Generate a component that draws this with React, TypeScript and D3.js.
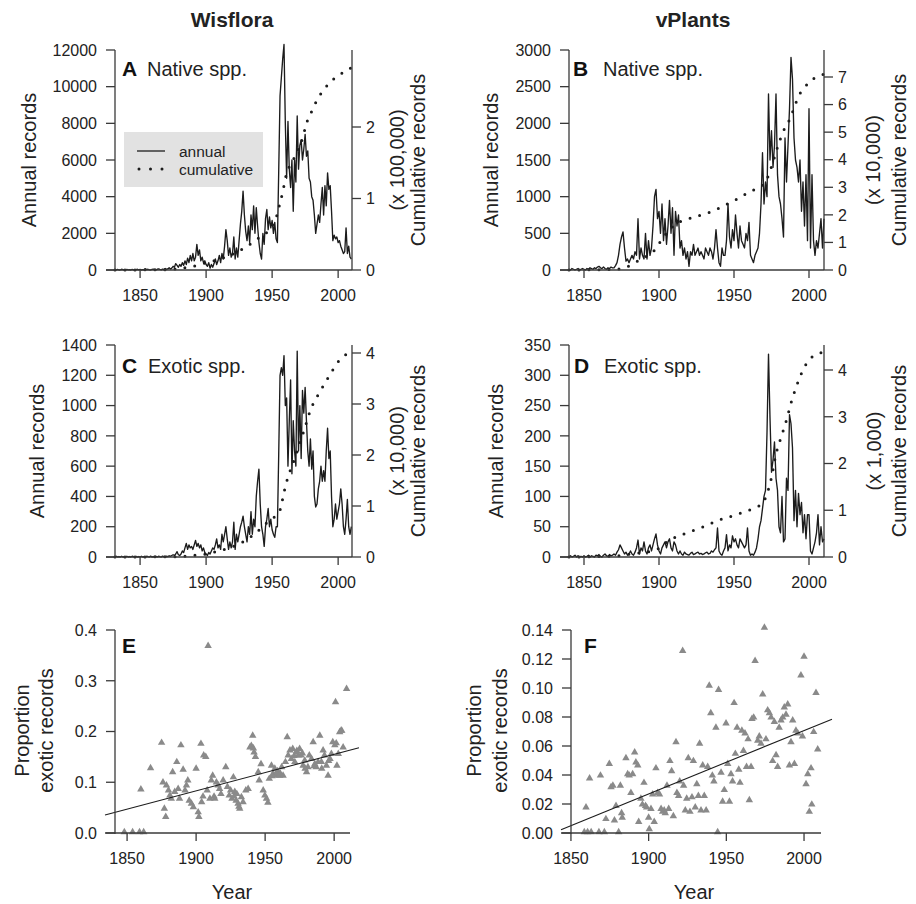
import React from 'react'
import * as d3 from 'd3'

// Herbarium records over time: Wisflora (left) vs vPlants (right).
// Annual counts as solid line (left axis), cumulative as dotted line (right axis),
// bottom row: proportion of exotic records per year with a linear fit.

const FONT = '"Liberation Sans", Arial, Helvetica, sans-serif'
const AXIS = '#3a3a3a'
const INK = '#1c1c1c'
const GREY = '#8a8a8a'

const yearTicks = [1850, 1900, 1950, 2000]

// ---- A: Wisflora native, annual records from 1831
const startA = 1831
const annualA = [
  20, 10, 30, 0, 10, 40, 20, 0, 10, 30,
  10, 20, 0, 30, 10, 0, 20, 40, 10, 30,
  0, 20, 10, 60, 20, 40, 10, 0, 30, 50,
  20, 10, 40, 60, 30, 10, 50, 20, 80, 40,
  60, 120, 50, 100, 200, 150, 350, 250, 150, 300,
  200, 400, 250, 500, 300, 650, 400, 800, 500, 900,
  500, 700, 1400, 800, 1100, 500, 700, 400, 500, 300,
  200, 400, 100, 300, 150, 350, 600, 300, 500, 800,
  400, 900, 600, 1300, 2200, 1600, 800, 1200, 700, 900,
  1800, 600, 1200, 700, 1600, 2500, 3200, 4300, 3000, 2100,
  1600, 2400, 1500, 3000, 2200, 3500, 2000, 3400, 2400, 1500,
  900, 600, 2000, 1400, 2800, 3300, 2200, 2900, 2300, 2700,
  2000, 2600, 1700, 1500, 5400, 9500, 10500, 11500, 12300, 8000,
  5000, 8100, 5500, 4500, 6000, 3200, 6000, 4800, 8400, 5500,
  6800, 7100, 6000, 6600, 7400, 6200, 6500, 5000, 4800, 4000,
  3800, 3000, 2000, 2500, 3000, 2600, 3600, 4500, 3000, 4600,
  3500, 5300, 4400, 4600, 3200, 1600, 1900, 1700, 1800, 1500,
  1600, 1300, 1100, 900, 1000, 2300, 900, 1300, 700, 600,
]
const cumYearsA = [1831, 1870, 1880, 1890, 1900, 1910, 1920, 1930, 1940, 1950, 1955, 1956, 1958, 1960, 1962, 1966, 1970, 1973, 1976, 1980, 1983, 1986, 1990, 1994, 1998, 2002, 2006, 2010]
const cumA = [0, 0.005, 0.02, 0.05, 0.1, 0.15, 0.22, 0.32, 0.45, 0.62, 0.86, 0.95, 1.08, 1.28, 1.4, 1.54, 1.7, 1.84, 2.05, 2.22, 2.34, 2.44, 2.54, 2.63, 2.69, 2.74, 2.79, 2.83]

// ---- B: vPlants native, from 1840
const startB = 1840
const annualB = [
  10, 0, 20, 10, 0, 10, 20, 0, 10, 20,
  10, 0, 20, 10, 30, 20, 10, 30, 20, 40,
  50, 30, 20, 40, 20, 10, 30, 20, 40, 30,
  30, 60, 100, 200, 350, 450, 520, 300, 120, 150,
  100, 150, 200, 150, 250, 200, 700, 150, 300, 200,
  150, 500, 150, 400, 200, 300, 600, 1000, 1100, 700,
  800, 500, 900, 400, 700, 350, 600, 950, 500, 850,
  200, 800, 600, 750, 300, 400, 200, 300, 150, 250,
  50, 250, 200, 350, 200, 250, 300, 200, 250, 200,
  150, 300, 250, 200, 300, 250, 150, 300, 550, 300,
  100, 50, 300, 200, 200, 400, 900, 450, 300, 550,
  400, 750, 500, 300, 600, 400, 350, 300, 500, 400,
  650, 200, 150, 100, 200, 250, 300, 500, 900, 1600,
  900, 1200, 1000, 2400, 1500, 1900, 1400, 1700, 2400, 1300,
  1000, 900, 700, 450, 1800, 1200, 1700, 2200, 2900, 2600,
  1800, 1500, 1400, 1200, 1500, 800, 1200, 600, 1300, 400,
  2200, 300, 1300, 400, 200, 400, 300, 500, 700, 300, 700,
]
const cumYearsB = [1840, 1870, 1875, 1878, 1885, 1890, 1896, 1900, 1903, 1907, 1912, 1918, 1925, 1930, 1935, 1940, 1945, 1951, 1955, 1960, 1965, 1969, 1972, 1975, 1979, 1983, 1987, 1990, 1993, 1996, 2000, 2005, 2010]
const cumB = [0, 0.02, 0.05, 0.1, 0.3, 0.45, 0.65, 0.95, 1.2, 1.45, 1.7, 1.82, 1.95, 2.02, 2.12, 2.24, 2.38, 2.54, 2.66, 2.83, 2.95, 3.08, 3.3, 3.75, 4.45, 5.05, 5.45, 5.87, 6.3, 6.55, 6.8, 7.0, 7.1]

// ---- C: Wisflora exotic, from 1831
const startC = 1831
const annualC = [
  0, 5, 0, 3, 0, 5, 0, 2, 0, 5,
  0, 3, 0, 5, 2, 0, 4, 0, 3, 0,
  5, 0, 3, 0, 5, 2, 0, 6, 0, 3,
  0, 4, 0, 5, 2, 0, 6, 3, 0, 5,
  3, 8, 5, 10, 15, 10, 20, 35, 15, 10,
  20, 40, 30, 60, 90, 50, 80, 60, 70, 50,
  80, 110, 70, 90, 60, 80, 40, 60, 30, 20,
  10, 30, 20, 40, 60, 50, 80, 120, 60, 80,
  50, 150, 100, 150, 200, 120, 50, 100, 60, 100,
  230, 50, 150, 100, 150, 200, 230, 270, 200, 150,
  100, 200, 150, 300, 150, 250, 200, 400, 500, 580,
  350, 200, 150, 70, 200, 250, 320, 200, 250, 180,
  150, 130, 200, 200, 680, 1200, 1250, 1200, 1330, 1000,
  1050, 600, 900, 1170, 550, 900, 700, 600, 1360, 700,
  1000, 650, 1100, 950, 1120, 900, 700, 600, 780, 580,
  700, 400, 330, 350, 450, 500, 600, 500, 570, 500,
  700, 850, 650, 700, 400, 200, 250, 350, 250, 300,
  350, 450, 350, 200, 150, 250, 380, 200, 150, 200,
]
const cumYearsC = [1831, 1875, 1890, 1900, 1910, 1920, 1930, 1935, 1941, 1946, 1952, 1956, 1959, 1962, 1966, 1970, 1975, 1979, 1984, 1990, 1996, 2001, 2005, 2010]
const cumC = [0, 0.005, 0.03, 0.06, 0.12, 0.2, 0.33, 0.42, 0.55, 0.67, 0.79, 0.92, 1.27, 1.57, 1.85, 2.15, 2.55, 2.88, 3.14, 3.41, 3.67, 3.86, 3.95, 4.05]

// ---- D: vPlants exotic, from 1840
const startD = 1840
const annualD = [
  0, 2, 0, 1, 3, 0, 2, 0, 1, 0,
  2, 0, 1, 3, 0, 2, 1, 0, 3, 2,
  4, 1, 0, 3, 5, 2, 1, 4, 2, 3,
  5, 3, 8, 12, 20, 15, 10, 5, 8, 3,
  5, 10, 5, 3, 8, 15, 28, 5, 15, 10,
  25, 10, 5, 15, 20, 10, 20, 30, 38, 20,
  10, 5, 15, 20, 25, 15, 25, 30, 15, 10,
  25, 20, 10, 5, 10, 5, 3, 8, 5, 4,
  3, 6, 8, 4, 5, 7, 8, 5, 6, 4,
  5, 7, 8, 5, 6, 10, 8, 12, 15, 48,
  10, 5, 3, 10, 15, 37, 10, 20, 15, 35,
  25, 30, 20, 15, 30, 25, 20, 15, 20, 48,
  10, 3, 5, 3, 8, 15, 30, 50, 60, 80,
  100, 110, 205, 335, 230, 140, 160, 190, 130, 110,
  50, 40, 100, 25, 30, 130, 110, 235, 220, 180,
  60, 110, 50, 105, 70, 90, 40, 70, 30, 70,
  70, 10, 5, 15, 25, 40, 70, 20, 50, 25, 30,
]
const cumYearsD = [1840, 1870, 1880, 1890, 1898, 1907, 1918, 1929, 1940, 1951, 1960, 1966, 1969, 1972, 1975, 1978, 1981.5, 1985, 1988, 1991.5, 1996, 2001, 2005, 2010]
const cumD = [0, 0.02, 0.06, 0.1, 0.15, 0.36, 0.51, 0.64, 0.79, 0.9, 1.0, 1.08, 1.15, 1.35, 1.7, 2.2, 2.57, 2.93, 3.29, 3.64, 4.0, 4.25, 4.32, 4.4]

// ---- E: Wisflora proportion exotic
const eYear = [
  1848, 1854, 1859, 1862, 1860, 1867, 1875, 1876, 1877, 1878,
  1878.5, 1880, 1881, 1882, 1883, 1886, 1884.5, 1887, 1888, 1889,
  1890.6, 1892, 1893, 1894, 1895, 1896.6, 1898, 1900, 1901.5, 1902,
  1903.5, 1904, 1905.5, 1907, 1908.7, 1908, 1910, 1911, 1912, 1913.5,
  1914.7, 1916, 1917, 1918, 1919.6, 1921.5, 1922.7, 1924, 1925, 1926,
  1927, 1928, 1929, 1930.4, 1931.6, 1932.8, 1934, 1936, 1937.7, 1939,
  1940, 1941, 1942, 1943, 1945, 1945.7, 1947, 1948.6, 1949.8, 1951,
  1952, 1953, 1954.6, 1955.8, 1957, 1958, 1959.4, 1960.6, 1962, 1963,
  1964.7, 1966, 1966.7, 1968, 1969, 1970, 1971.5, 1972.7, 1974, 1975,
  1976, 1977.5, 1978.7, 1980, 1981, 1982, 1983.6, 1984.8, 1986, 1987,
  1988.4, 1989.6, 1990.8, 1992, 1993, 1994.4, 1995.6, 1997, 1998, 1999,
  2000.5, 2001, 2002, 2003, 2004, 2005, 2006.5, 2009,
  1941.5, 1955, 1959, 1961, 1971, 1973, 1977, 1979, 1985.5, 1991,
  1996, 2001.5, 2005.5, 1905, 1913, 1927.5, 1929.5, 1931,
]
const eProp = [
  0, 0, 0, 0, 0.084, 0.126, 0.176, 0.098, 0.046, 0.03,
  0.092, 0.082, 0.072, 0.066, 0.118, 0.138, 0.079, 0.085, 0.066, 0.171,
  0.123, 0.082, 0.092, 0.102, 0.062, 0.056, 0.049, 0.125, 0.039, 0.03,
  0.174, 0.059, 0.151, 0.148, 0.367, 0.082, 0.066, 0.102, 0.111, 0.066,
  0.098, 0.092, 0.085, 0.075, 0.102, 0.128, 0.089, 0.072, 0.082, 0.066,
  0.108, 0.079, 0.062, 0.056, 0.046, 0.069, 0.059, 0.082, 0.085, 0.167,
  0.17, 0.19, 0.157, 0.148, 0.118, 0.102, 0.134, 0.082, 0.072, 0.066,
  0.058, 0.105, 0.131, 0.115, 0.125, 0.111, 0.118, 0.111, 0.128, 0.111,
  0.138, 0.187, 0.151, 0.161, 0.144, 0.164, 0.138, 0.157, 0.151, 0.164,
  0.151, 0.131, 0.141, 0.118, 0.128, 0.151, 0.144, 0.177, 0.134, 0.128,
  0.138, 0.19, 0.138, 0.161, 0.151, 0.131, 0.111, 0.144, 0.154, 0.177,
  0.171, 0.256, 0.131, 0.154, 0.197, 0.2, 0.167, 0.282,
  0.165, 0.11, 0.12, 0.115, 0.15, 0.16, 0.155, 0.125, 0.13, 0.125,
  0.14, 0.175, 0.2, 0.07, 0.07, 0.07, 0.075, 0.05,
]
const fitE = [0.047, 0.00072] // value at 1850, slope per year

// ---- F: vPlants proportion exotic
const fYear = [
  1859.7, 1862, 1858.6, 1860.7, 1863, 1869, 1868, 1871.5, 1872.5, 1874.7,
  1875.8, 1877, 1878, 1879, 1880.7, 1881.8, 1882.6, 1883, 1885.4, 1886.5,
  1887.5, 1888.6, 1889.7, 1891, 1891.8, 1893, 1893.6, 1895, 1896, 1897,
  1898, 1898.7, 1900, 1900.4, 1901.5, 1902.6, 1903.6, 1904.7, 1905.8, 1907,
  1908, 1909, 1910, 1910.7, 1911.8, 1912.9, 1913.7, 1914.8, 1915.9, 1917.6,
  1918.2, 1919.3, 1920, 1921.9, 1922.5, 1923.6, 1924.5, 1925.5, 1926.6, 1927.9,
  1928.8, 1930, 1931, 1932, 1932.8, 1933.7, 1934.8, 1935.8, 1937, 1938,
  1939, 1940, 1941, 1942, 1943.3, 1944.4, 1945, 1946.6, 1947.6, 1948.7,
  1949.8, 1950.9, 1952, 1953, 1954, 1955, 1955.8, 1956.9, 1958, 1958.8,
  1960, 1961, 1962, 1963, 1964, 1964.8, 1965.9, 1966.5, 1967.6, 1968.5,
  1970.2, 1971.2, 1972.3, 1973.4, 1974.5, 1975.5, 1976.6, 1977.7, 1978.8, 1979.8,
  1980.9, 1982, 1983, 1984, 1985.2, 1986.3, 1987.3, 1988.4, 1989.5, 1990.6,
  1991.6, 1992.7, 1993.8, 1994.8, 1996, 1998, 1999, 2000, 2001.3, 2002.4,
  2003.4, 2004.5, 2005, 2006.2, 2007.7, 2008.8,
]
const fProp = [
  0.017, 0.037, 0, 0, 0, 0.039, 0, 0, 0.009, 0.047,
  0.031, 0.032, 0.008, 0.018, 0, 0.032, 0.013, 0.01, 0.051, 0.04,
  0.039, 0.027, 0.04, 0.055, 0.048, 0.046, 0.007, 0.023, 0.019, 0.034,
  0.018, 0.017, 0.01, 0.002, 0.016, 0.026, 0.007, 0.044, 0.027, 0.026,
  0.016, 0.014, 0.015, 0.013, 0.032, 0.016, 0.049, 0.042, 0.011, 0.062,
  0.027, 0.025, 0.035, 0.125, 0.032, 0.015, 0.023, 0.051, 0.014, 0.024,
  0.049, 0.017, 0.033, 0.025, 0.061, 0.015, 0.046, 0.025, 0.015, 0.045,
  0.101, 0.082, 0.039, 0.035, 0.072, 0, 0.098, 0.041, 0.021, 0.029,
  0.075, 0.047, 0.021, 0.04, 0.035, 0.089, 0.054, 0.072, 0.043, 0.034,
  0.07, 0.056, 0.068, 0.045, 0.064, 0.022, 0.045, 0.078, 0.079, 0.118,
  0.063, 0.066, 0.061, 0.095, 0.141, 0.064, 0.084, 0.082, 0.079, 0.049,
  0.076, 0.053, 0.045, 0.072, 0.077, 0.079, 0.086, 0.081, 0.088, 0.046,
  0.062, 0.077, 0.047, 0.07, 0.068, 0.108, 0.066, 0.121, 0.033, 0.04,
  0.014, 0.044, 0.019, 0.069, 0.096, 0.057,
]
const fitF = [0.0051, 0.000437]

const ticksA = [0, 2000, 4000, 6000, 8000, 10000, 12000]
const ticksB = [0, 500, 1000, 1500, 2000, 2500, 3000]
const ticksC = [0, 200, 400, 600, 800, 1000, 1200, 1400]
const ticksD = [0, 50, 100, 150, 200, 250, 300, 350]
const rTicksA = [0, 1, 2]
const rTicksB = [0, 1, 2, 3, 4, 5, 6, 7]
const rTicksCD = [0, 1, 2, 3, 4]
const ticksE = [0, 0.1, 0.2, 0.3, 0.4]
const ticksF = [0, 0.02, 0.04, 0.06, 0.08, 0.1, 0.12, 0.14]

type Layout = {
  left: number; right: number; top: number; bottom: number; rTop: number
  xDomain: [number, number]; yMax: number; rMax: number
  ylabX: number; rlab1X: number; rlab2X: number
  letterX: number; groupX: number; letterY: number
}

function SeriesPanel(props: {
  start: number; annual: number[]; cumYears: number[]; cum: number[]
  lay: Layout; yTicks: number[]; rTicks: number[]
  letter: string; group: string; scaleLabel: string; legend?: boolean
}) {
  const { start, annual, cumYears, cum, lay, yTicks, rTicks } = props
  const x = d3.scaleLinear().domain(lay.xDomain).range([lay.left, lay.right])
  const y = d3.scaleLinear().domain([0, lay.yMax]).range([lay.bottom, lay.top])
  const yr = d3.scaleLinear().domain([0, lay.rMax]).range([lay.bottom, lay.rTop])
  const pts: [number, number][] = annual.map((v, i) => [start + i, v])
  const annualPath = d3.line<[number, number]>().x((d) => x(d[0])).y((d) => y(d[1]))(pts) || ''
  const cumPts: [number, number][] = cumYears.map((yy, i) => [yy, cum[i]])
  const cumPath =
    d3.line<[number, number]>().x((d) => x(d[0])).y((d) => yr(d[1])).curve(d3.curveMonotoneX)(cumPts) || ''
  const midY = (lay.top + lay.bottom) / 2
  return (
    <g>
      <path d={annualPath} fill="none" stroke={INK} strokeWidth={1.35} strokeLinejoin="round" />
      <path d={cumPath} fill="none" stroke={INK} strokeWidth={3} strokeDasharray="0 10" strokeLinecap="round" />
      <g stroke={AXIS} strokeWidth={1.3}>
        <line x1={lay.left - 9} x2={lay.right} y1={lay.bottom} y2={lay.bottom} />
        <line x1={lay.left} x2={lay.left} y1={lay.top} y2={lay.bottom} />
        <line x1={lay.right} x2={lay.right} y1={lay.top} y2={lay.bottom} />
        {yearTicks.map((t) => (
          <line key={t} x1={x(t)} x2={x(t)} y1={lay.bottom} y2={lay.bottom + 8} />
        ))}
        {yTicks.map((t) => (
          <line key={t} x1={lay.left - 9} x2={lay.left} y1={y(t)} y2={y(t)} />
        ))}
        {rTicks.map((t) => (
          <line key={t} x1={lay.right} x2={lay.right + 9} y1={yr(t)} y2={yr(t)} />
        ))}
      </g>
      <g fontSize={16} fill="#222">
        {yearTicks.map((t) => (
          <text key={t} x={x(t)} y={lay.bottom + 31} textAnchor="middle">{t}</text>
        ))}
        {yTicks.map((t) => (
          <text key={t} x={lay.left - 18} y={y(t)} dy="0.36em" textAnchor="end">{t}</text>
        ))}
        {rTicks.map((t) => (
          <text key={t} x={lay.right + 14} y={yr(t)} dy="0.36em" textAnchor="start">{t}</text>
        ))}
      </g>
      <g fontSize={20} fill="#222" textAnchor="middle">
        <text transform={`translate(${lay.ylabX},${midY}) rotate(-90)`} dy="0.35em">Annual records</text>
        <text transform={`translate(${lay.rlab1X},${midY}) rotate(-90)`} dy="0.35em">{props.scaleLabel}</text>
        <text transform={`translate(${lay.rlab2X},${midY}) rotate(-90)`} dy="0.35em">Cumulative records</text>
      </g>
      <text x={lay.letterX} y={lay.letterY} fontSize={21} fontWeight="bold" fill="#111">{props.letter}</text>
      <text x={lay.groupX} y={lay.letterY} fontSize={20} fill="#222">{props.group}</text>
      {props.legend && (
        <g>
          <rect x={124} y={132} width={139} height={55} fill="#e2e2e2" />
          <line x1={137} x2={165} y1={151} y2={151} stroke={INK} strokeWidth={1.3} />
          <line x1={139} x2={163} y1={169} y2={169} stroke={INK} strokeWidth={3} strokeDasharray="0 11.5" strokeLinecap="round" />
          <text x={179} y={156.5} fontSize={15.5} fill="#222">annual</text>
          <text x={179} y={174.5} fontSize={15.5} fill="#222">cumulative</text>
        </g>
      )}
    </g>
  )
}

type SLayout = {
  xRange: [number, number]; xDomain: [number, number]; axisX: number; axisEnd: number
  top: number; bottom: number; yMax: number; labX1: number; labX2: number
  letterX: number; letterY: number; yearX: number
}

function ScatterPanel(props: {
  years: number[]; vals: number[]; fit: number[]; lay: SLayout; yTicks: number[]; digits: number; letter: string
}) {
  const { years, vals, fit, lay, yTicks } = props
  const x = d3.scaleLinear().domain(lay.xDomain).range(lay.xRange)
  const y = d3.scaleLinear().domain([0, lay.yMax]).range([lay.bottom, lay.top])
  const tri = d3.symbol().type(d3.symbolTriangle).size(24)() || ''
  const fitAt = (yy: number) => fit[0] + fit[1] * (yy - 1850)
  const [d0, d1] = lay.xDomain
  const midY = (lay.top + lay.bottom) / 2 - 1
  return (
    <g>
      {years.map((yy, i) => (
        <path key={i} d={tri} transform={`translate(${x(yy)},${y(vals[i]) - 1})`} fill={GREY} />
      ))}
      <line x1={x(d0)} x2={x(d1)} y1={y(fitAt(d0))} y2={y(fitAt(d1))} stroke={INK} strokeWidth={1.1} />
      <g stroke={AXIS} strokeWidth={1.3}>
        <line x1={lay.xRange[0]} x2={lay.axisEnd} y1={lay.bottom} y2={lay.bottom} />
        <line x1={lay.axisX} x2={lay.axisX} y1={lay.top} y2={lay.bottom + 1} />
        {yearTicks.map((t) => (
          <line key={t} x1={x(t)} x2={x(t)} y1={lay.bottom} y2={lay.bottom + 8} />
        ))}
        {yTicks.map((t) => (
          <line key={t} x1={lay.axisX - 9} x2={lay.axisX} y1={y(t)} y2={y(t)} />
        ))}
      </g>
      <g fontSize={16} fill="#222">
        {yearTicks.map((t) => (
          <text key={t} x={x(t)} y={lay.bottom + 31} textAnchor="middle">{t}</text>
        ))}
        {yTicks.map((t) => (
          <text key={t} x={lay.axisX - 18} y={y(t)} dy="0.36em" textAnchor="end">{t.toFixed(props.digits)}</text>
        ))}
      </g>
      <g fontSize={20} fill="#222" textAnchor="middle">
        <text transform={`translate(${lay.labX1},${midY}) rotate(-90)`} dy="0.35em">Proportion</text>
        <text transform={`translate(${lay.labX2},${midY}) rotate(-90)`} dy="0.35em">exotic records</text>
        <text x={lay.yearX} y={899}>Year</text>
      </g>
      <text x={lay.letterX} y={lay.letterY} fontSize={21} fontWeight="bold" fill="#111">{props.letter}</text>
    </g>
  )
}

const layA: Layout = {
  left: 115, right: 352, top: 50, bottom: 270, rTop: 55.5, xDomain: [1831, 2010.5], yMax: 12000, rMax: 3,
  ylabX: 29, rlab1X: 397, rlab2X: 418, letterX: 122, groupX: 147, letterY: 76,
}
const layB: Layout = {
  left: 569, right: 824, top: 50, bottom: 270, rTop: 77, xDomain: [1840, 2010], yMax: 3000, rMax: 7,
  ylabX: 491, rlab1X: 873, rlab2X: 899, letterX: 573, groupX: 603, letterY: 76,
}
const layC: Layout = {
  left: 115, right: 352, top: 345, bottom: 557, rTop: 353, xDomain: [1831, 2010.5], yMax: 1400, rMax: 4,
  ylabX: 37, rlab1X: 397, rlab2X: 418, letterX: 122, groupX: 148, letterY: 373,
}
const layD: Layout = {
  left: 569, right: 824, top: 345, bottom: 557, rTop: 370, xDomain: [1840, 2010], yMax: 350, rMax: 4,
  ylabX: 496, rlab1X: 874, rlab2X: 899, letterX: 574, groupX: 604, letterY: 373,
}
const layE: SLayout = {
  xRange: [105, 359], xDomain: [1834, 2018], axisX: 115, axisEnd: 350, top: 630, bottom: 833, yMax: 0.4,
  labX1: 22, labX2: 46, letterX: 122, letterY: 653, yearX: 232,
}
const layF: SLayout = {
  xRange: [561, 832], xDomain: [1843.6, 2018], axisX: 571, axisEnd: 821, top: 630, bottom: 833, yMax: 0.14,
  labX1: 474, labX2: 500, letterX: 584, letterY: 653, yearX: 694,
}

export default function App() {
  return (
    <svg
      width={916}
      height={904}
      viewBox="0 0 916 904"
      style={{ position: 'absolute', left: 0, top: 0, background: '#fff' }}
      fontFamily={FONT}
    >
      <rect width={916} height={904} fill="#fff" />
      <text x={232} y={27} textAnchor="middle" fontSize={21} fontWeight="bold" fill="#222">Wisflora</text>
      <text x={693} y={27} textAnchor="middle" fontSize={21} fontWeight="bold" fill="#222">vPlants</text>

      <SeriesPanel start={startA} annual={annualA} cumYears={cumYearsA} cum={cumA} lay={layA}
        yTicks={ticksA} rTicks={rTicksA} letter="A" group="Native spp." scaleLabel="(x 100,000)" legend />
      <SeriesPanel start={startB} annual={annualB} cumYears={cumYearsB} cum={cumB} lay={layB}
        yTicks={ticksB} rTicks={rTicksB} letter="B" group="Native spp." scaleLabel="(x 10,000)" />
      <SeriesPanel start={startC} annual={annualC} cumYears={cumYearsC} cum={cumC} lay={layC}
        yTicks={ticksC} rTicks={rTicksCD} letter="C" group="Exotic spp." scaleLabel="(x 10,000)" />
      <SeriesPanel start={startD} annual={annualD} cumYears={cumYearsD} cum={cumD} lay={layD}
        yTicks={ticksD} rTicks={rTicksCD} letter="D" group="Exotic spp." scaleLabel="(x 1,000)" />

      <ScatterPanel years={eYear} vals={eProp} fit={fitE} lay={layE} yTicks={ticksE} digits={1} letter="E" />
      <ScatterPanel years={fYear} vals={fProp} fit={fitF} lay={layF} yTicks={ticksF} digits={2} letter="F" />
    </svg>
  )
}
